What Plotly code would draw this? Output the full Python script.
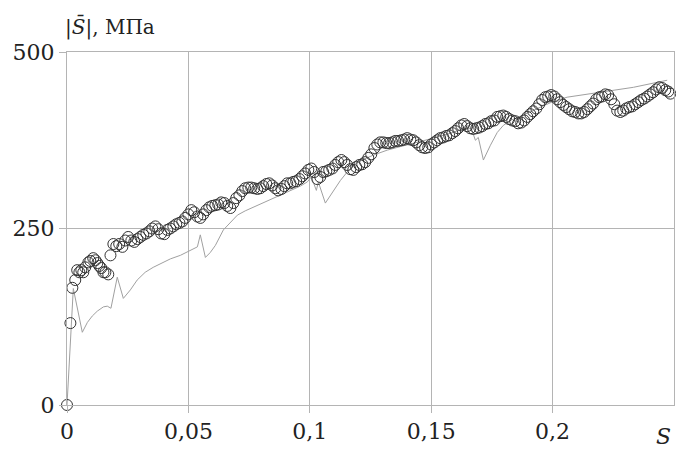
import plotly.graph_objects as go

# Circles series (s, |S|)
circ_s = [0.0, 0.0014, 0.0022, 0.0034, 0.0042, 0.0051, 0.0059, 0.0067, 0.0075, 0.0088,
          0.0096, 0.0108, 0.0117, 0.0125, 0.0133, 0.0141, 0.0150, 0.0158, 0.0170, 0.0179,
          0.0191, 0.0203, 0.0215, 0.0228, 0.0240, 0.0252, 0.0265, 0.0277, 0.0290, 0.0302,
          0.0314, 0.0327, 0.0339, 0.0351, 0.0364, 0.0376, 0.0388, 0.0401, 0.0413, 0.0425,
          0.0438, 0.0450, 0.0463, 0.0475, 0.0487, 0.0500, 0.0512, 0.0524, 0.0537, 0.0549,
          0.0561, 0.0574, 0.0586, 0.0598, 0.0611, 0.0623, 0.0635, 0.0648, 0.0660, 0.0673,
          0.0685, 0.0697, 0.0710, 0.0722, 0.0734, 0.0747, 0.0759, 0.0771, 0.0784, 0.0796,
          0.0808, 0.0821, 0.0833, 0.0845, 0.0858, 0.0870, 0.0883, 0.0895, 0.0907, 0.0920,
          0.0932, 0.0944, 0.0957, 0.0969, 0.0981, 0.0994, 0.1006, 0.1018, 0.1031, 0.1043,
          0.1055, 0.1068, 0.1080, 0.1093, 0.1105, 0.1117, 0.1130, 0.1142, 0.1154, 0.1167,
          0.1179, 0.1191, 0.1204, 0.1216, 0.1228, 0.1241, 0.1253, 0.1266, 0.1278, 0.1290,
          0.1303, 0.1315, 0.1327, 0.1340, 0.1352, 0.1364, 0.1377, 0.1389, 0.1401, 0.1414,
          0.1426, 0.1438, 0.1451, 0.1463, 0.1475, 0.1488, 0.1500, 0.1513, 0.1525, 0.1537,
          0.1550, 0.1562, 0.1574, 0.1587, 0.1599, 0.1611, 0.1624, 0.1636, 0.1648, 0.1661,
          0.1673, 0.1686, 0.1698, 0.1710, 0.1723, 0.1735, 0.1747, 0.1760, 0.1772, 0.1784,
          0.1797, 0.1809, 0.1821, 0.1834, 0.1846, 0.1858, 0.1871, 0.1883, 0.1896, 0.1908,
          0.1920, 0.1933, 0.1945, 0.1957, 0.1970, 0.1982, 0.1994, 0.2007, 0.2019, 0.2031,
          0.2044, 0.2056, 0.2068, 0.2081, 0.2093, 0.2106, 0.2118, 0.2130, 0.2143, 0.2155,
          0.2167, 0.2180, 0.2192, 0.2204, 0.2217, 0.2229, 0.2241, 0.2254, 0.2266, 0.2279,
          0.2291, 0.2303, 0.2316, 0.2328, 0.2340, 0.2353, 0.2365, 0.2377, 0.2390, 0.2402,
          0.2414, 0.2427, 0.2439, 0.2451, 0.2464, 0.2476, 0.2485]
circ_v = [0, 116, 166, 177, 191, 188, 191, 188, 195, 202,
          204, 208, 205, 201, 197, 194, 188, 188, 185, 212,
          228, 225, 228, 224, 233, 238, 233, 231, 235, 238,
          241, 243, 246, 250, 253, 249, 243, 242, 248, 250,
          253, 256, 258, 260, 265, 270, 276, 273, 267, 265,
          270, 276, 280, 282, 283, 284, 287, 286, 282, 279,
          286, 293, 297, 303, 307, 308, 308, 307, 306, 307,
          310, 313, 314, 311, 307, 304, 306, 310, 314, 314,
          316, 317, 320, 324, 328, 333, 335, 330, 320, 323,
          330, 331, 333, 335, 340, 344, 347, 344, 340, 334,
          333, 337, 340, 341, 344, 350, 355, 364, 369, 372,
          372, 371, 371, 372, 374, 374, 375, 376, 378, 376,
          375, 372, 368, 365, 364, 365, 369, 372, 375, 378,
          379, 381, 382, 385, 388, 392, 396, 398, 395, 392,
          391, 392, 393, 395, 398, 399, 402, 403, 408, 409,
          410, 408, 405, 403, 402, 399, 400, 403, 408, 412,
          416, 420, 426, 432, 436, 437, 439, 437, 433, 429,
          425, 422, 419, 416, 415, 413, 413, 415, 419, 423,
          427, 433, 436, 437, 440, 439, 433, 426, 417, 415,
          417, 420, 422, 423, 426, 429, 432, 434, 437, 440,
          443, 447, 450, 449, 446, 444, 441]

# Thin line series
line_s = [0.0, 0.0026, 0.0063, 0.0084, 0.0104, 0.0125, 0.0150, 0.0166, 0.0181, 0.0207,
          0.0232, 0.0261, 0.0289, 0.0322, 0.0355, 0.0393, 0.0426, 0.0467, 0.0508, 0.0537,
          0.0549, 0.0570, 0.0590, 0.0611, 0.0644, 0.0673, 0.0702, 0.0734, 0.0767, 0.0808,
          0.0849, 0.0891, 0.0920, 0.0961, 0.0990, 0.1006, 0.1027, 0.1035, 0.1064, 0.1097,
          0.1126, 0.1154, 0.1196, 0.1262, 0.1319, 0.1373, 0.1443, 0.1509, 0.1579, 0.1640,
          0.1665, 0.1682, 0.1694, 0.1715, 0.1744, 0.1772, 0.1797, 0.1826, 0.1867, 0.1908,
          0.1949, 0.2003, 0.2060, 0.2197, 0.2333, 0.2472]
line_v = [0, 165, 103, 117, 126, 133, 139, 140, 137, 181,
          151, 163, 177, 188, 195, 201, 207, 212, 219, 224,
          241, 209, 216, 226, 248, 259, 269, 275, 280, 286,
          293, 299, 304, 310, 316, 323, 304, 316, 286, 304,
          318, 330, 344, 354, 361, 366, 372, 378, 385, 392,
          392, 375, 379, 347, 368, 386, 396, 403, 409, 415,
          422, 430, 436, 443, 450, 460]

x_tickvals = [0, 0.05, 0.1, 0.15, 0.2]
x_ticktext = ["0", "0,05", "0,1", "0,15", "0,2"]
y_tickvals = [0, 250, 500]
y_ticktext = ["0", "250", "500"]

FONT = "DejaVu Serif"
GRID = "#b4b4b4"
TXT = "#222222"

fig = go.Figure()
fig.add_trace(go.Scatter(
    x=line_s, y=line_v, mode="lines",
    line=dict(color="#a0a0a0", width=1),
    showlegend=False, hoverinfo="skip"))
fig.add_trace(go.Scatter(
    x=circ_s, y=circ_v, mode="markers", cliponaxis=False,
    marker=dict(symbol="circle-open", size=11, color="#333333",
                line=dict(color="#333333", width=1)),
    showlegend=False))

axis_common = dict(showgrid=True, gridcolor=GRID, gridwidth=1,
                   showline=True, linecolor=GRID, linewidth=1, mirror=True,
                   ticks="outside", ticklen=7, tickcolor=GRID, zeroline=False,
                   tickfont=dict(family=FONT, size=22, color=TXT))

fig.update_layout(
    width=676, height=451,
    margin=dict(l=67, r=2, t=52, b=46),
    paper_bgcolor="white", plot_bgcolor="white",
    font=dict(family=FONT, size=22, color=TXT),
    xaxis=dict(range=[0, 0.25], tickvals=x_tickvals, ticktext=x_ticktext, **axis_common),
    yaxis=dict(range=[0, 500], tickvals=y_tickvals, ticktext=y_ticktext, **axis_common),
    annotations=[
        dict(text="|<i>S\u0304</i>|, МПа", xref="paper", yref="paper",
             x=-0.007, y=1.07, xanchor="left", yanchor="middle",
             showarrow=False, font=dict(family=FONT, size=20, color=TXT)),
        dict(text="<i>S</i>", xref="paper", yref="paper",
             x=0.983, y=-0.088, xanchor="center", yanchor="middle",
             showarrow=False, font=dict(family=FONT, size=22, color=TXT)),
    ],
)

fig.write_html("out.html")
